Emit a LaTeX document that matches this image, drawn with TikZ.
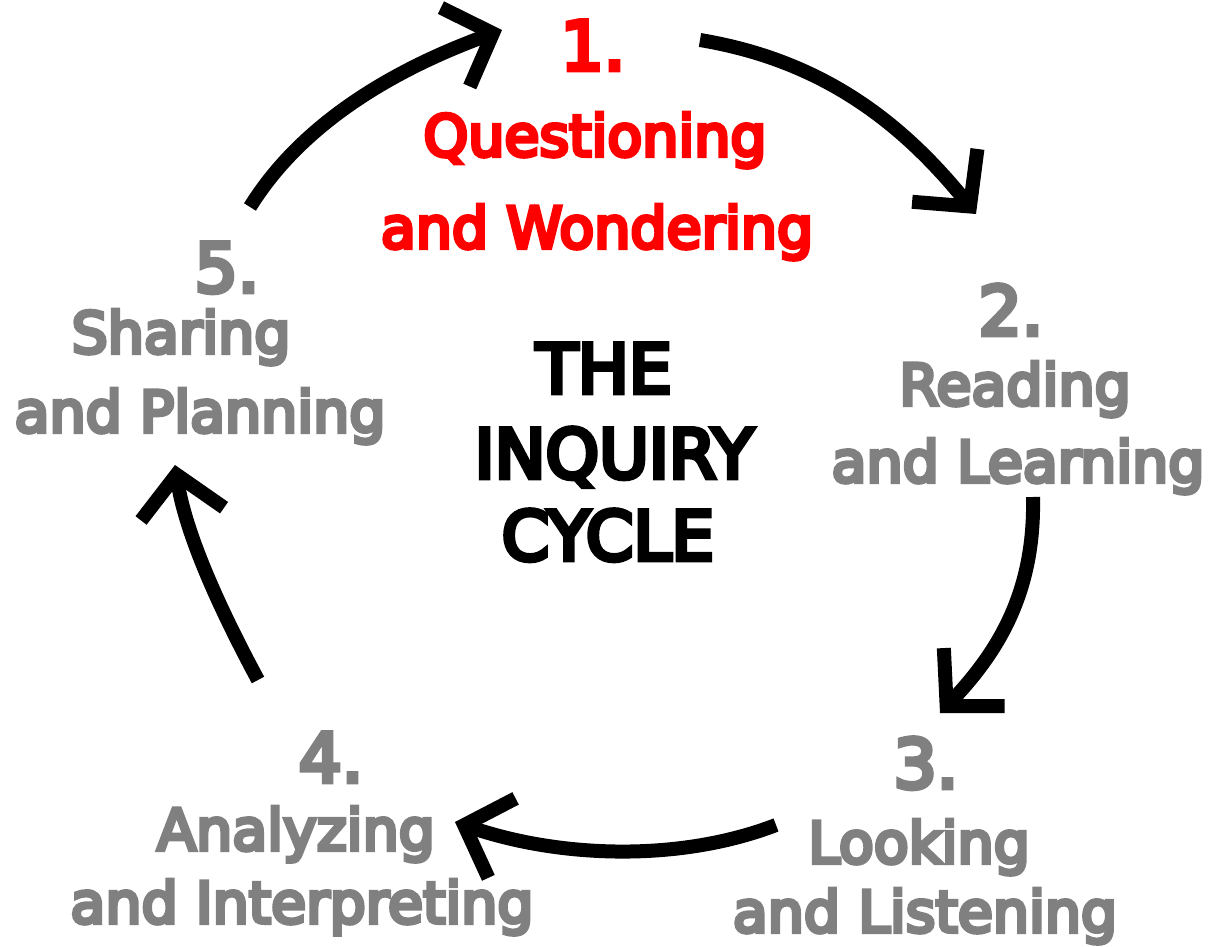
\documentclass[tikz,border=0pt]{standalone}
\usepackage{fontspec}
\usepackage{xcolor}
\setmainfont{DejaVu Sans}
\newfontfamily\cyclefont{DejaVu Sans}[RawFeature={embolden=7}]
\usetikzlibrary{arrows.meta}

\begin{document}
\begin{tikzpicture}[x=0.5pt,y=-0.5pt,
    cyclearrow/.style={line width=7pt,-{Straight Barb[length=20pt,width=42pt]}},
    stagetext/.style={anchor=base,inner sep=0pt,text=gray,font=\cyclefont\fontsize{28.5}{34}\selectfont},
    stagenum/.style={stagetext,font=\cyclefont\fontsize{34}{40}\selectfont},
    titletext/.style={anchor=base,inner sep=0pt,text=black,font=\cyclefont\fontsize{34}{40}\selectfont}]
  \useasboundingbox (0,0) rectangle (1211,947);
  % title
  \node[titletext] (the) at (604,393) {THE};
  \node[titletext] (inquiry) at (614,478) {INQUIRY};
  \node[titletext] (cycle) at (608,560) {CYCLE};
  % stages
  \node[stagenum,text=red] (num1) at (593,70) {1.};
  \node[stagetext,text=red] (txt1a) at (595,156) {Questioning};
  \node[stagetext,text=red] (txt1b) at (597,248) {and Wondering};
  \node[stagenum] (num2) at (1011,335) {2.};
  \node[stagetext] (txt2a) at (1015,405) {Reading};
  \node[stagetext] (txt2b) at (1018,482) {and Learning};
  \node[stagenum] (num3) at (926,788) {3.};
  \node[stagetext] (txt3a) at (919,863) {Looking};
  \node[stagetext] (txt3b) at (925,932) {and Listening};
  \node[stagenum] (num4) at (331,782) {4.};
  \node[stagetext] (txt4a) at (296,850) {Analyzing};
  \node[stagetext] (txt4b) at (302,923) {and Interpreting};
  \node[stagenum] (num5) at (227,292) {5.};
  \node[stagetext] (txt5a) at (181,353) {Sharing};
  \node[stagetext] (txt5b) at (200,432) {and Planning};
  % arrow ends
  \coordinate (a1s) at (700,40);   \coordinate (a1e) at (976,214);
  \coordinate (a2s) at (1033,497); \coordinate (a2e) at (940,713);
  \coordinate (a3s) at (776,825);  \coordinate (a3e) at (455,822);
  \coordinate (a4s) at (258,680);  \coordinate (a4e) at (175,465);
  \coordinate (a5s) at (250,207);  \coordinate (a5e) at (502,30);
  \draw[cyclearrow] (a1s) .. controls (820,60) and (900,120) .. (a1e);%1 to 2
  \draw[cyclearrow] (a2s) .. controls (1035,590) and (1000,650) .. (a2e);%2 to 3
  \draw[cyclearrow] (a3s) .. controls (680,862) and (560,858) .. (a3e);%3 to 4
  \draw[cyclearrow] (a4s) .. controls (215,600) and (185,530) .. (a4e);%4 to 5
  \draw[cyclearrow] (a5s) .. controls (310,110) and (420,60) .. (a5e);%5 to 1
\end{tikzpicture}
\end{document}
